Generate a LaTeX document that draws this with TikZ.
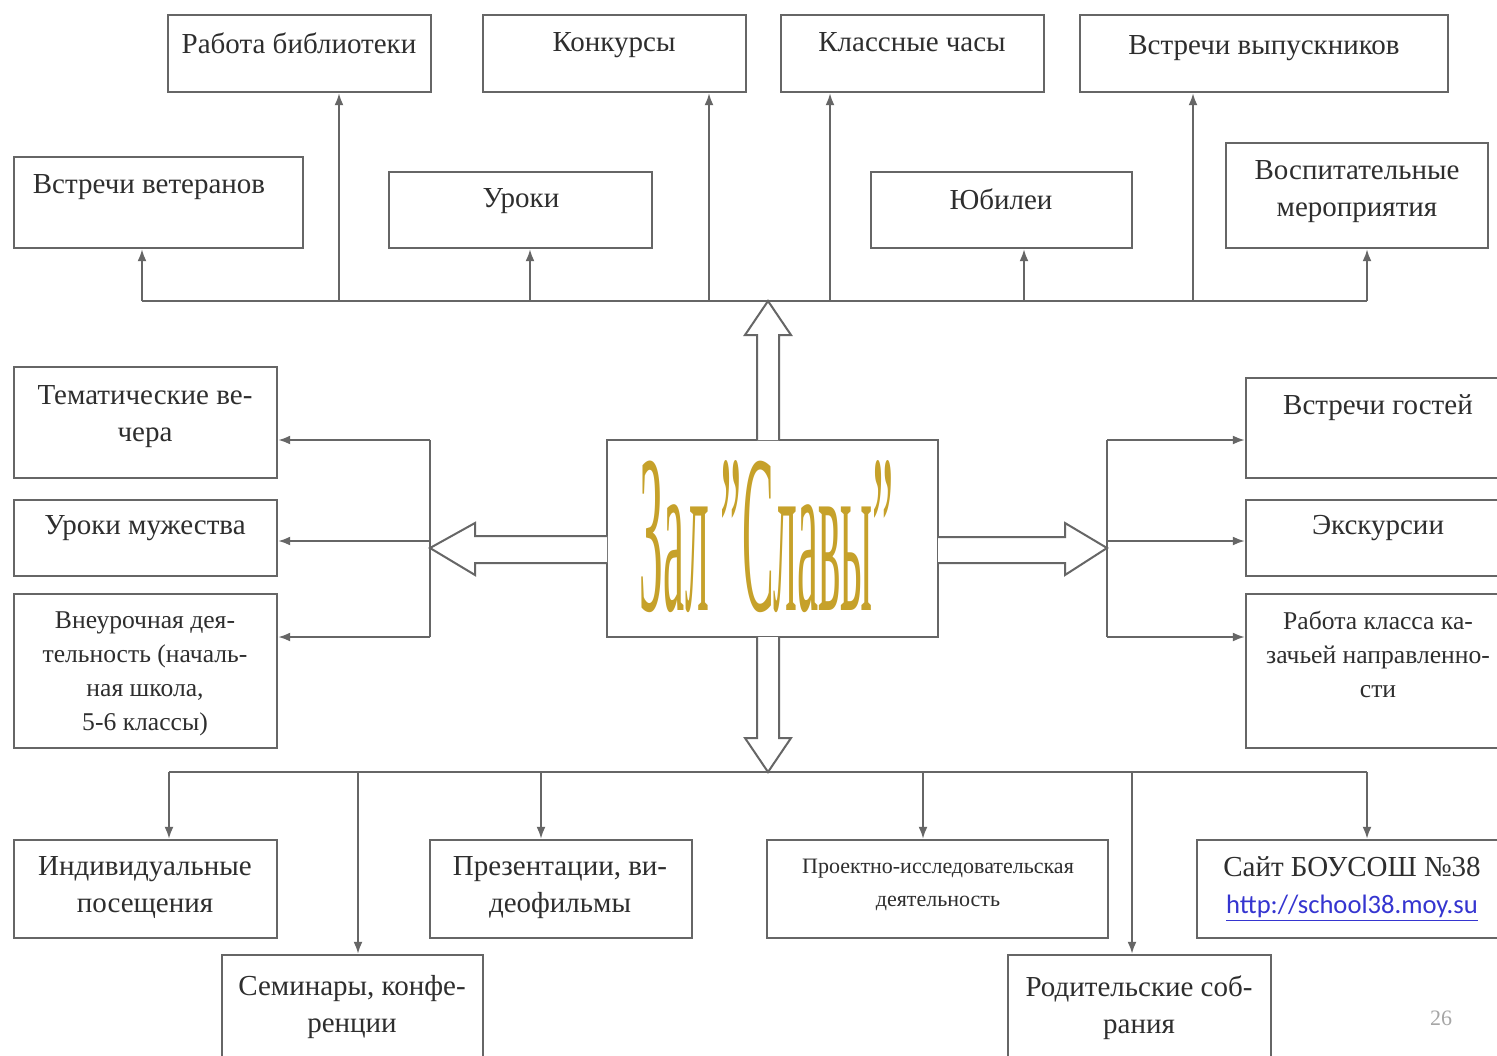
\documentclass[tikz,border=0pt]{standalone}
\usepackage{fontspec}
\usepackage{graphicx}
\setmainfont{Liberation Serif}
\newfontfamily\linkfont{Carlito}
\usetikzlibrary{arrows.meta,fit}
\definecolor{ln}{HTML}{666666}
\definecolor{tx}{HTML}{2E2E2E}
\definecolor{goldt}{HTML}{C6A12A}
\definecolor{lnk}{HTML}{3535D0}
\tikzset{
 boxst/.style={draw=ln, line width=1.2pt, inner sep=0pt, fill=white},
 lbl/.style={text=tx, font=\fontsize{14.5}{18.5}\selectfont, align=center, anchor=north, inner sep=0pt},
 sml/.style={lbl, font=\fontsize{12.8}{17}\selectfont},
 tiny/.style={lbl, font=\fontsize{11}{16.5}\selectfont},
 arr/.style={draw=ln, line width=1pt, -{Latex[length=6pt,width=4.5pt]}},
 bus/.style={draw=ln, line width=1pt},
 hollow/.style={draw=ln, line width=1pt, fill=white, line join=miter},
}
\begin{document}
\begin{tikzpicture}[x=0.5pt,y=-0.5pt]
\useasboundingbox (0,0) rectangle (1497,1055);
\clip (0,0) rectangle (1497,1055);
\fill[white] (0,0) rectangle (1497,1055);

% top boxes
\node[boxst, fit={(168,15) (431,92)}] (lib) {};
\node[boxst, fit={(483,15) (746,92)}] (konk) {};
\node[boxst, fit={(781,15) (1044,92)}] (klass) {};
\node[boxst, fit={(1080,15) (1448,92)}] (vyp) {};
\node[boxst, fit={(14,157) (303,248)}] (vet) {};
\node[boxst, fit={(389,172) (652,248)}] (urok) {};
\node[boxst, fit={(871,172) (1132,248)}] (yub) {};
\node[boxst, fit={(1226,143) (1488,248)}] (vosp) {};

\node[lbl] (tlib) at (299,32) {Работа библиотеки};
\node[lbl] (tkonk) at (614,32) {Конкурсы};
\node[lbl] (tklass) at (912,32) {Классные часы};
\node[lbl] (tvyp) at (1264,35) {Встречи выпускников};
\node[lbl] (tvet) at (149,174) {Встречи ветеранов};
\node[lbl] (turok) at (521,188) {Уроки};
\node[lbl] (tyub) at (1001,188) {Юбилеи};
\node[lbl] (tvosp) at (1357,160) {Воспитательные\\мероприятия};

% left boxes
\node[boxst, fit={(14,367) (277,478)}] (tem) {};
\node[boxst, fit={(14,500) (277,576)}] (muzh) {};
\node[boxst, fit={(14,594) (277,748)}] (vneur) {};
\node[lbl] (ttem) at (145,385) {Тематические ве-\\чера};
\node[lbl] (tmuzh) at (145,515) {Уроки мужества};
\node[sml] (tvneur) at (145,611) {Внеурочная дея-\\тельность (началь-\\ная школа,\\5-6 классы)};

% right boxes
\node[boxst, fit={(1246,378) (1510,478)}] (gost) {};
\node[boxst, fit={(1246,500) (1510,576)}] (eksk) {};
\node[boxst, fit={(1246,594) (1510,748)}] (kaz) {};
\node[lbl] (tgost) at (1378,394) {Встречи гостей};
\node[lbl] (teksk) at (1378,515) {Экскурсии};
\node[sml] (tkaz) at (1378,611) {Работа класса ка-\\зачьей направленно-\\сти};

% bottom boxes
\node[boxst, fit={(14,840) (277,938)}] (ind) {};
\node[boxst, fit={(222,955) (483,1065)}] (sem) {};
\node[boxst, fit={(430,840) (692,938)}] (prez) {};
\node[boxst, fit={(767,840) (1108,938)}] (proekt) {};
\node[boxst, fit={(1197,840) (1510,938)}] (sajt) {};
\node[boxst, fit={(1008,955) (1271,1065)}] (rod) {};
\node[lbl] (tind) at (145,856) {Индивидуальные\\посещения};
\node[lbl] (tsem) at (352,975) {Семинары, конфе-\\ренции};
\node[lbl] (tprez) at (560,856) {Презентации, ви-\\деофильмы};
\node[tiny] (tproekt) at (938,859) {Проектно-исследовательская\\деятельность};
\node[lbl] (tsajt) at (1352,856) {Сайт БОУСОШ №38\\{\linkfont\fontsize{13.3}{18.5}\selectfont\color{lnk}\underline{http://school38.moy.su}}};
\node[lbl] (trod) at (1139,975) {Родительские соб-\\рания};

% centre
\node[boxst, fit={(607,440) (938,637)}] (c) {};
\node[text=goldt, inner sep=0pt] (title) at (767,537) {\resizebox{127pt}{75pt}{Зал \char"0022Славы\char"0022}};

% hollow arrows
\draw[hollow] (757,440) -- (757,335) -- (745,335) -- (768,301) -- (791,335) -- (779,335) -- (779,440);
\draw[hollow] (757,637) -- (757,738) -- (745,738) -- (768,772) -- (791,738) -- (779,738) -- (779,637);
\draw[hollow] (607,536) -- (475,536) -- (475,523) -- (430,548) -- (475,575) -- (475,563) -- (607,563);
\draw[hollow] (938,537) -- (1065,537) -- (1065,523) -- (1107,548) -- (1065,575) -- (1065,563) -- (938,563);

% top bus
\draw[bus] (142,301) -- (1367,301);
\coordinate (T1) at (142,301);
\coordinate (T2) at (339,301);
\coordinate (T3) at (530,301);
\coordinate (T4) at (709,301);
\coordinate (T5) at (830,301);
\coordinate (T6) at (1024,301);
\coordinate (T7) at (1193,301);
\coordinate (T8) at (1367,301);
\draw[arr] (T1) -- (T1 |- vet.south);
\draw[arr] (T2) -- (T2 |- lib.south);
\draw[arr] (T3) -- (T3 |- urok.south);
\draw[arr] (T4) -- (T4 |- konk.south);
\draw[arr] (T5) -- (T5 |- klass.south);
\draw[arr] (T6) -- (T6 |- yub.south);
\draw[arr] (T7) -- (T7 |- vyp.south);
\draw[arr] (T8) -- (T8 |- vosp.south);

% left bracket
\draw[bus] (430,440) -- (430,637);
\coordinate (L1) at (430,440);
\coordinate (L2) at (430,541);
\coordinate (L3) at (430,637);
\draw[arr] (L1) -- (L1 -| tem.east);
\draw[arr] (L2) -- (L2 -| muzh.east);
\draw[arr] (L3) -- (L3 -| vneur.east);

% right bracket
\draw[bus] (1107,440) -- (1107,637);
\coordinate (R1) at (1107,440);
\coordinate (R2) at (1107,541);
\coordinate (R3) at (1107,637);
\draw[arr] (R1) -- (R1 -| gost.west);
\draw[arr] (R2) -- (R2 -| eksk.west);
\draw[arr] (R3) -- (R3 -| kaz.west);

% bottom bus
\draw[bus] (169,772) -- (1367,772);
\coordinate (B1) at (169,772);
\coordinate (B2) at (358,772);
\coordinate (B3) at (541,772);
\coordinate (B4) at (923,772);
\coordinate (B5) at (1132,772);
\coordinate (B6) at (1367,772);
\draw[arr] (B1) -- (B1 |- ind.north);
\draw[arr] (B2) -- (B2 |- sem.north);
\draw[arr] (B3) -- (B3 |- prez.north);
\draw[arr] (B4) -- (B4 |- proekt.north);
\draw[arr] (B5) -- (B5 |- rod.north);
\draw[arr] (B6) -- (B6 |- sajt.north);

\node[text=black!35, font=\fontsize{11}{13}\selectfont] (pg) at (1441,1018) {26};
\end{tikzpicture}
\end{document}
